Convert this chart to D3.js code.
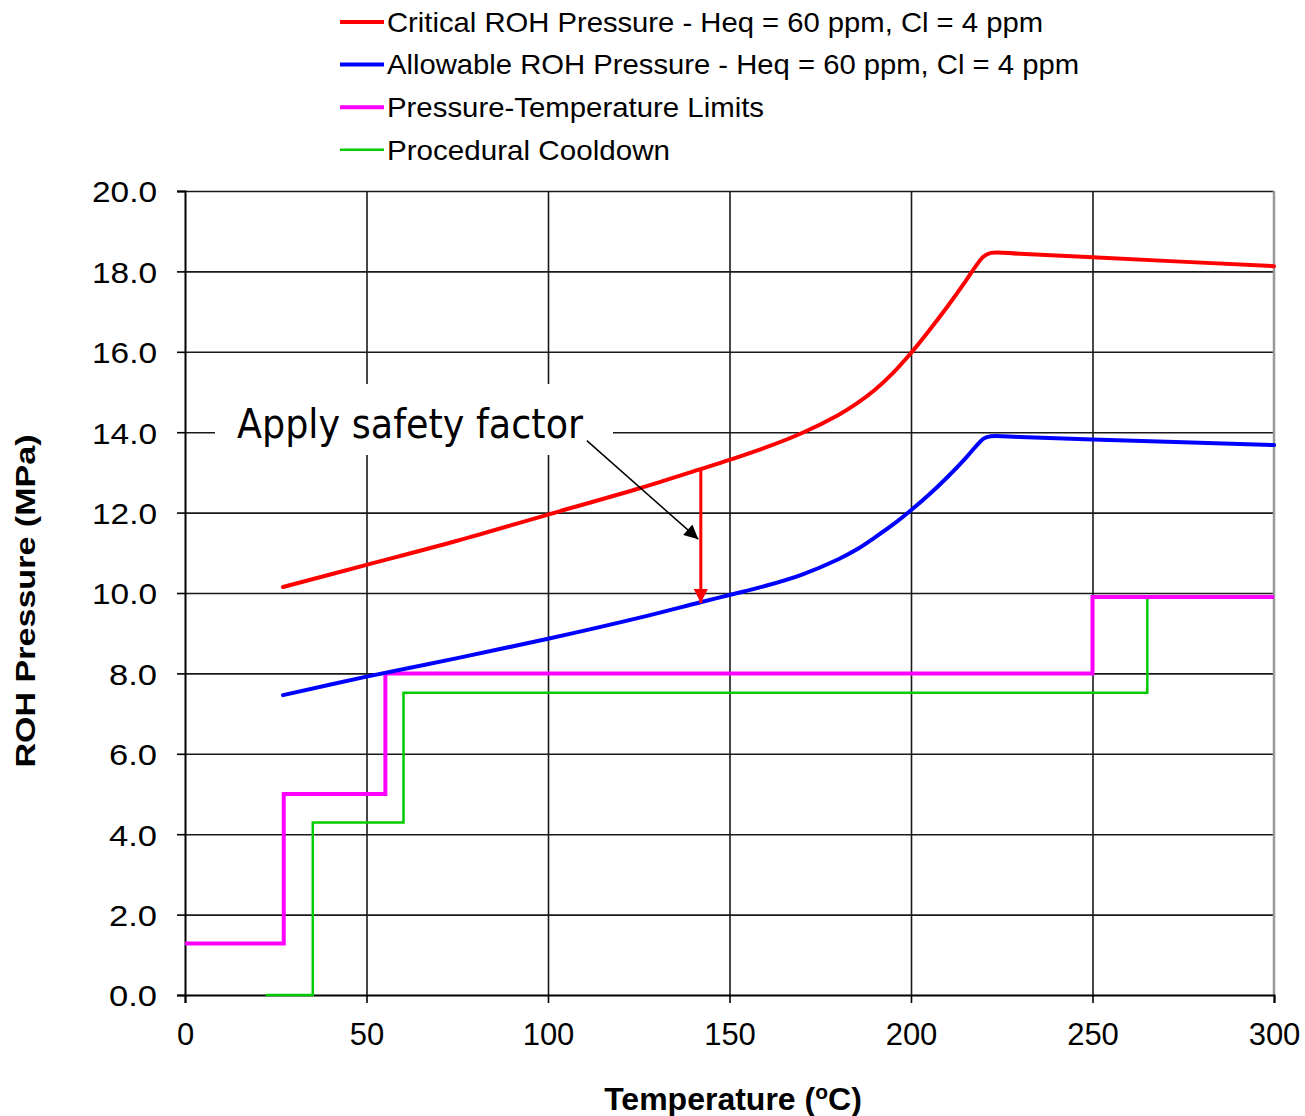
<!DOCTYPE html>
<html>
<head>
<meta charset="utf-8">
<script src="https://cdn.jsdelivr.net/npm/d3@7"></script>
<style>
  body { margin: 0; background: #fff; }
  svg { display: block; }
</style>
</head>
<body>
<svg id="chart" width="1305" height="1116"></svg>
<script>
// series: [temperature C, pressure MPa]
var critical = [[27,10.15],[50,10.7],[75,11.3],[100,11.95],[125,12.6],[142,13.08],[150,13.31],[160,13.62],[170,13.98],[180,14.43],[185,14.71],[190,15.05],[195,15.47],[200,15.97],[205,16.53],[210,17.12],[215,17.75],[218,18.15],[220,18.37],[222,18.46],[230,18.44],[250,18.35],[300,18.13]];
var allowable = [[27,7.46],[50,7.92],[75,8.38],[100,8.86],[125,9.38],[142,9.77],[150,9.95],[160,10.18],[170,10.46],[180,10.84],[185,11.08],[190,11.38],[195,11.7],[200,12.06],[205,12.45],[210,12.88],[215,13.35],[218,13.66],[220,13.84],[222,13.9],[230,13.88],[250,13.82],[300,13.68]];
// step series (value holds until next point)
var ptLimits = [[0,1.28],[27.2,5.0],[55.2,8.0],[250,9.9],[300,9.9]];
var cooldown = [[22.2,0],[35.2,4.29],[60.2,7.52],[265.1,9.9],[295,9.9]];

var legendNames = ["Critical ROH Pressure - Heq = 60 ppm, Cl = 4 ppm",
                   "Allowable ROH Pressure - Heq = 60 ppm, Cl = 4 ppm",
                   "Pressure-Temperature Limits",
                   "Procedural Cooldown"];
var xTicks = [0,50,100,150,200,250,300];
var yTicks = [0,2,4,6,8,10,12,14,16,18,20];

// annotation: safety factor arrow (from critical down to allowable at 142 C)
var safetyArrow = [[142.1,13.06],[142.1,9.75]];
var pointerArrow = [[110.7,13.79],[141.4,11.34]];

var svg = d3.select("#chart");

var x = d3.scaleLinear().domain([0,300]).range([185,1274]);
var y = d3.scaleLinear().domain([0,20]).range([995,191]);

var font = "'Liberation Sans', Arial, sans-serif";

// grid
svg.append("g")
  .attr("transform","translate(0,995)")
  .call(d3.axisBottom(x).tickValues(xTicks.slice(1,-1)).tickSize(-(995-191)).tickFormat(""))
  .call(function(g){ g.select(".domain").remove(); })
  .selectAll("line").attr("stroke","#1a1a1a").attr("stroke-width",1.6);

svg.append("g")
  .attr("transform","translate(185,0)")
  .call(d3.axisLeft(y).tickValues(yTicks.slice(1)).tickSize(-(1274-185)).tickFormat(""))
  .call(function(g){ g.select(".domain").remove(); })
  .selectAll("line").attr("stroke","#1a1a1a").attr("stroke-width",1.6);

// right border
svg.append("line")
  .attr("x1",x(300)).attr("x2",x(300)).attr("y1",y(20)).attr("y2",y(0))
  .attr("stroke","#999").attr("stroke-width",2.5);

// white box behind the annotation text
svg.append("rect")
  .attr("x",215).attr("y",384).attr("width",398).attr("height",71)
  .attr("fill","#fff");

// axes
var yAxis = svg.append("g")
  .attr("transform","translate(185,0)")
  .call(d3.axisLeft(y).tickValues(yTicks).tickSize(8).tickPadding(10).tickFormat(d3.format(".1f")));
yAxis.select(".domain").attr("stroke","#000").attr("stroke-width",2);
yAxis.selectAll(".tick line").attr("stroke","#000").attr("stroke-width",1.6);
yAxis.selectAll("text")
  .attr("font-family",font).attr("font-size",30).attr("fill","#000")
  .attr("x",-28).attr("dy","0.36em")
  .attr("textLength",function(d){ return d3.format(".1f")(d).length === 4 ? 65 : 48; })
  .attr("lengthAdjust","spacingAndGlyphs");

var xAxis = svg.append("g")
  .attr("transform","translate(0,995)")
  .call(d3.axisBottom(x).tickValues(xTicks).tickSize(8).tickPadding(10).tickFormat(d3.format("d")));
xAxis.select(".domain").attr("stroke","#000").attr("stroke-width",2);
xAxis.selectAll(".tick line").attr("stroke","#000").attr("stroke-width",1.6);
xAxis.selectAll("text")
  .attr("font-family",font).attr("font-size",31).attr("fill","#000")
  .attr("y",28).attr("dy","0.71em");

// axis titles
svg.append("text")
  .attr("transform","translate(35,601) rotate(-90)")
  .attr("text-anchor","middle")
  .attr("font-family",font).attr("font-weight","bold").attr("font-size",28)
  .attr("textLength",333).attr("lengthAdjust","spacingAndGlyphs")
  .text("ROH Pressure  (MPa)");

var xt = svg.append("text")
  .attr("x",733).attr("y",1110)
  .attr("text-anchor","middle")
  .attr("font-family",font).attr("font-weight","bold").attr("font-size",32);
xt.append("tspan").text("Temperature (");
xt.append("tspan").attr("font-size",21).attr("dy",-11).text("o");
xt.append("tspan").attr("dy",11).text("C)");

// series
var smooth = d3.line().x(function(d){ return x(d[0]); }).y(function(d){ return y(d[1]); }).curve(d3.curveCatmullRom.alpha(0.5));
var step = d3.line().x(function(d){ return x(d[0]); }).y(function(d){ return y(d[1]); }).curve(d3.curveStepAfter);

svg.append("path").datum(cooldown).attr("d",step)
  .attr("fill","none").attr("stroke","#00cc00").attr("stroke-width",2.5);
svg.append("path").datum(ptLimits).attr("d",step)
  .attr("fill","none").attr("stroke","#ff00ff").attr("stroke-width",4);
svg.append("path").datum(allowable).attr("d",smooth)
  .attr("fill","none").attr("stroke","#0000ff").attr("stroke-width",4).attr("stroke-linecap","round");
svg.append("path").datum(critical).attr("d",smooth)
  .attr("fill","none").attr("stroke","#ff0000").attr("stroke-width",4).attr("stroke-linecap","round");

// arrowheads
var defs = svg.append("defs");
defs.append("marker").attr("id","headRed")
  .attr("viewBox","0 0 10 10").attr("refX",10).attr("refY",5)
  .attr("markerWidth",14).attr("markerHeight",14).attr("markerUnits","userSpaceOnUse")
  .attr("orient","auto")
  .append("path").attr("d","M0,0L10,5L0,10Z").attr("fill","#ff0000");
defs.append("marker").attr("id","headBlack")
  .attr("viewBox","0 0 10 10").attr("refX",10).attr("refY",5)
  .attr("markerWidth",16).attr("markerHeight",14).attr("markerUnits","userSpaceOnUse")
  .attr("orient","auto")
  .append("path").attr("d","M0,0L10,5L0,10Z").attr("fill","#000");

var straight = d3.line().x(function(d){ return x(d[0]); }).y(function(d){ return y(d[1]); });
svg.append("path").datum(safetyArrow).attr("d",straight)
  .attr("stroke","#ff0000").attr("stroke-width",3).attr("fill","none")
  .attr("marker-end","url(#headRed)");
svg.append("path").datum(pointerArrow).attr("d",straight)
  .attr("stroke","#000").attr("stroke-width",1.5).attr("fill","none")
  .attr("marker-end","url(#headBlack)");

svg.append("text")
  .attr("x",237).attr("y",438)
  .attr("font-family","'DejaVu Sans', Tahoma, sans-serif").attr("font-size",40)
  .attr("textLength",346).attr("lengthAdjust","spacingAndGlyphs")
  .text("Apply safety factor");

// legend
var legendColors = ["#ff0000","#0000ff","#ff00ff","#00cc00"];
var legendWidths = [4,4,4,2.5];
var legendTextLen = [656,692,377,283];
var lg = svg.append("g").selectAll("g").data(legendNames).enter().append("g")
  .attr("transform",function(d,i){ return "translate(0," + (22 + i*42.6) + ")"; });
lg.append("line")
  .attr("x1",340).attr("x2",384).attr("y1",0).attr("y2",0)
  .attr("stroke",function(d,i){ return legendColors[i]; })
  .attr("stroke-width",function(d,i){ return legendWidths[i]; });
lg.append("text")
  .attr("x",387).attr("y",0).attr("dy","0.35em")
  .attr("font-family",font).attr("font-size",28)
  .attr("textLength",function(d,i){ return legendTextLen[i]; })
  .attr("lengthAdjust","spacingAndGlyphs")
  .text(function(d){ return d; });
</script>
</body>
</html>
